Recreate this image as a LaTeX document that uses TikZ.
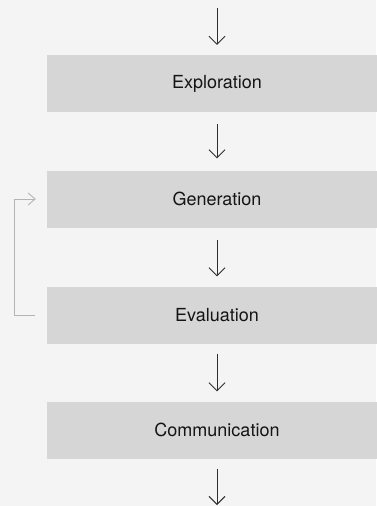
\documentclass[tikz,border=0pt]{standalone}
\usepackage{fontspec}
\setmainfont{TeX Gyre Heros}
\usetikzlibrary{arrows.meta}
\definecolor{pagebg}{HTML}{F4F4F4}
\definecolor{stagefill}{HTML}{D6D6D6}
\definecolor{flowink}{HTML}{2E2E2E}
\definecolor{loopink}{HTML}{B4B4B4}
\begin{document}
\begin{tikzpicture}[x=1pt,y=1pt,
  stage/.style={fill=stagefill, draw=none, minimum width=340pt, minimum height=57pt,
    inner sep=0pt, font=\fontsize{18}{21}\selectfont, text=black!92},
  flow/.style={draw=flowink, line width=0.9pt, -{Straight Barb[length=8pt,width=16pt,line width=0.9pt]}},
  loopline/.style={draw=loopink, line width=0.9pt, -{Straight Barb[length=7pt,width=12pt,line width=0.9pt]}}]
  % page
  \fill[pagebg] (0,0) rectangle (376,-506);
  \useasboundingbox (0,0) rectangle (376,-506);

  % stages
  \node[stage] (expl) at (217,-83.5) {Exploration};
  \node[stage] (gen)  at (217,-199)  {Generation};
  \node[stage] (eval) at (217,-315)  {Evaluation};
  \node[stage] (comm) at (217,-430)  {Communication};

  % free ends of the flow
  \coordinate (in)  at (217,-8);
  \coordinate (out) at (217,-505);

  % main flow
  \draw[flow, shorten >=10pt] (in) -- (expl.north);
  \draw[flow, shorten <=12pt, shorten >=12pt] (expl.south) -- (gen.north);
  \draw[flow, shorten <=12pt, shorten >=10pt] (gen.south) -- (eval.north);
  \draw[flow, shorten <=10pt, shorten >=10pt] (eval.south) -- (comm.north);
  \draw[flow, shorten <=10pt] (comm.south) -- (out);

  % feedback from evaluation back to generation
  \coordinate (loopstart) at ([xshift=-12pt]eval.west);
  \coordinate (loopend)   at ([xshift=-11pt]gen.west);
  \draw[loopline] (loopstart) -- (14,-315) -- (14,-199) -- (loopend);
\end{tikzpicture}
\end{document}
